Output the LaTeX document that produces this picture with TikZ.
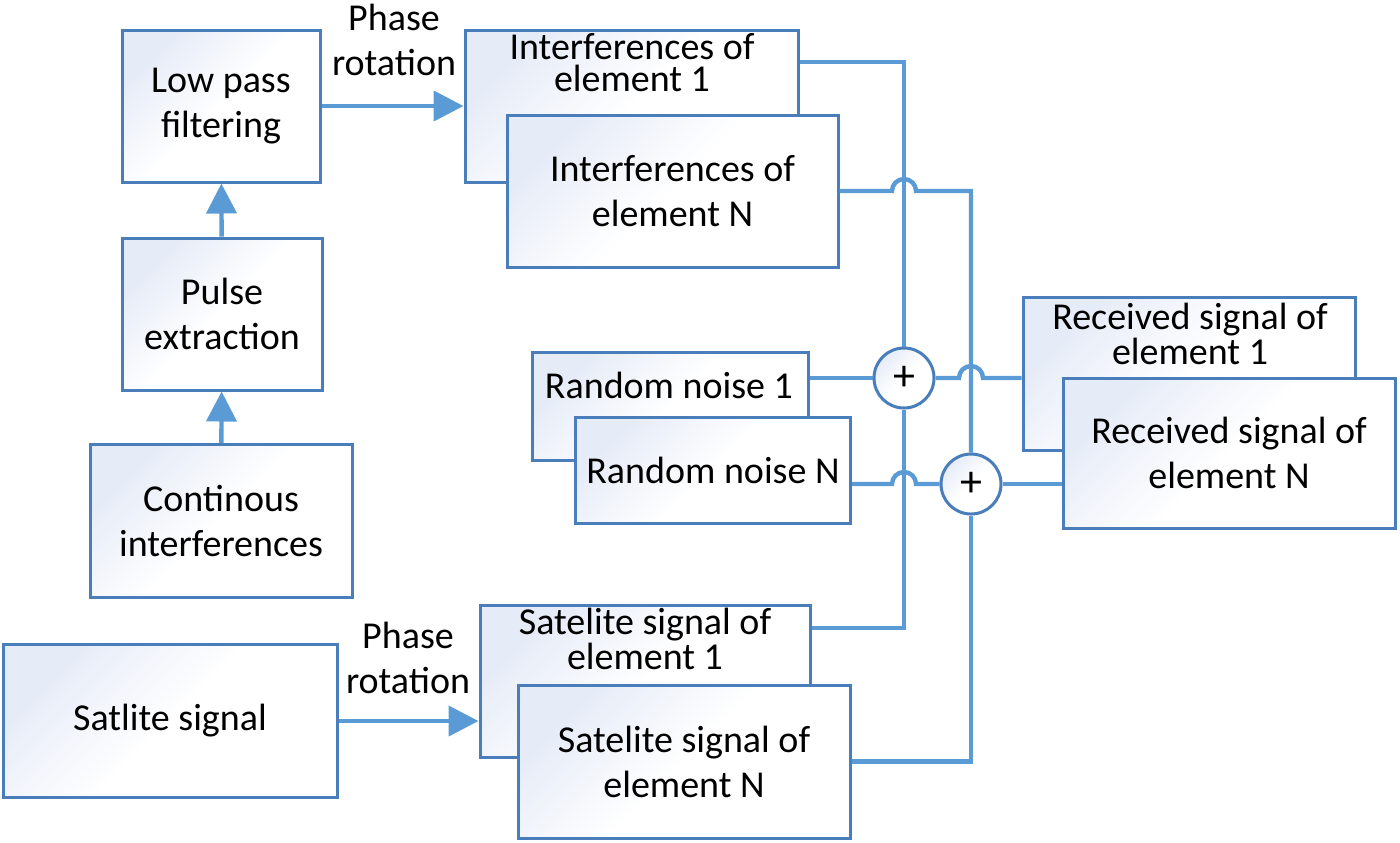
\documentclass[tikz,border=0pt]{standalone}
\usepackage{fontspec}
\setmainfont{Carlito}
\usetikzlibrary{arrows.meta,calc}
\definecolor{boxline}{RGB}{74,126,187}
\definecolor{linkblue}{RGB}{91,155,213}
\definecolor{boxfill}{RGB}{229,235,247}
\begin{document}
\begin{tikzpicture}[x=0.5pt,y=-0.5pt,
        font=\fontsize{19}{22.5}\selectfont,
        >={Triangle[length=15pt,width=15pt]},
        blockbox/.style={draw=boxline,line width=1.5pt,top color=boxfill,bottom color=white,middle color=white,shading angle=45,align=center,inner sep=0pt},
        backtext/.style={align=center,font=\fontsize{19}{16}\selectfont},
        sumnode/.style={circle,draw=boxline,line width=1.5pt,top color=boxfill,bottom color=white,middle color=white,shading angle=45,minimum size=30pt,inner sep=0pt,font=\fontsize{22}{22}\selectfont},
        wire/.style={draw=linkblue,line width=2.2pt}]
        \useasboundingbox (0,0) rectangle (1400,842);
        % left column
        \node (lowpass) at (221,106) [blockbox,minimum width=99pt,minimum height=76pt] {Low pass\\filtering};
        \node (pulse) at (222,314) [blockbox,minimum width=100pt,minimum height=76pt] {Pulse\\extraction};
        \node (contin) at (221,521) [blockbox,minimum width=131pt,minimum height=76.5pt] {Continous\\interferences};
        \node (satsig) at (170,721) [blockbox,minimum width=167pt,minimum height=76.5pt] {Satlite signal};
        % stacked boxes
        \node (int1) at (631.5,106) [blockbox,minimum width=166.5pt,minimum height=76pt] {};
        \node (int1txt) at (632,63) [backtext] {Interferences of\\element 1};
        \node (intN) at (672.5,191) [blockbox,minimum width=165.5pt,minimum height=76pt] {Interferences of\\element N};
        \node (noise1) at (670,406) [blockbox,minimum width=138pt,minimum height=54pt] {};
        \node (noise1txt) at (669,385) [backtext] {Random noise 1};
        \node (noiseN) at (713,470) [blockbox,minimum width=137.5pt,minimum height=53pt] {Random noise N};
        \node (recv1) at (1189,374) [blockbox,minimum width=166pt,minimum height=76.5pt] {};
        \node (recv1txt) at (1190,334) [backtext] {Received signal of\\element 1};
        \node (recvN) at (1229,453) [blockbox,minimum width=166pt,minimum height=75pt] {Received signal of\\element N};
        \node (sat1) at (645,681) [blockbox,minimum width=165pt,minimum height=76pt] {};
        \node (sat1txt) at (645,639) [backtext] {Satelite signal of\\element 1};
        \node (satN) at (684,761.5) [blockbox,minimum width=166pt,minimum height=76.5pt] {Satelite signal of\\element N};
        % adders
        \node (add1) at (904,378) [sumnode] {+};
        \node (add2) at (971,484) [sumnode] {+};
        \coordinate (int1out) at ([yshift=22pt]int1.east);
        \coordinate (sat1out) at ([yshift=26.5pt]sat1.east);
        % arrows
        \draw[->,wire] (contin) -- (pulse);
        \draw[->,wire] (pulse) -- (lowpass);
        \draw[->,wire] (lowpass) -- (int1);
        \draw[->,wire] (satsig.east) -- (sat1.west |- satsig.east);
        \node (rot1) at (394,40) [align=center] {Phase\\rotation};
        \node (rot2) at (408,658) [align=center] {Phase\\rotation};
        % wires to the adders
        \draw[wire] (int1out) -- (add1 |- int1out) -- (add1);
        \draw[wire] (sat1out) -- (add1 |- sat1out) -- (add1);
        \draw[wire] (intN.east) -- ($(add1 |- intN.east)+(-6pt,0)$) arc[start angle=180,end angle=0,radius=6pt] -- (add2 |- intN.east) -- (add2);
        \draw[wire] (satN.east) -- (add2 |- satN.east) -- (add2);
        \draw[wire] (noise1.east |- add1) -- (add1);
        \draw[wire] (noiseN.east |- add2) -- ($(add1 |- add2)+(-6pt,0)$) arc[start angle=180,end angle=0,radius=6pt] -- (add2);
        \draw[wire] (add1) -- ($(add2 |- add1)+(-6pt,0)$) arc[start angle=180,end angle=0,radius=6pt] -- (recv1.west |- add1);
        \draw[wire] (add2) -- (recvN.west |- add2);
    \end{tikzpicture}
\end{document}
